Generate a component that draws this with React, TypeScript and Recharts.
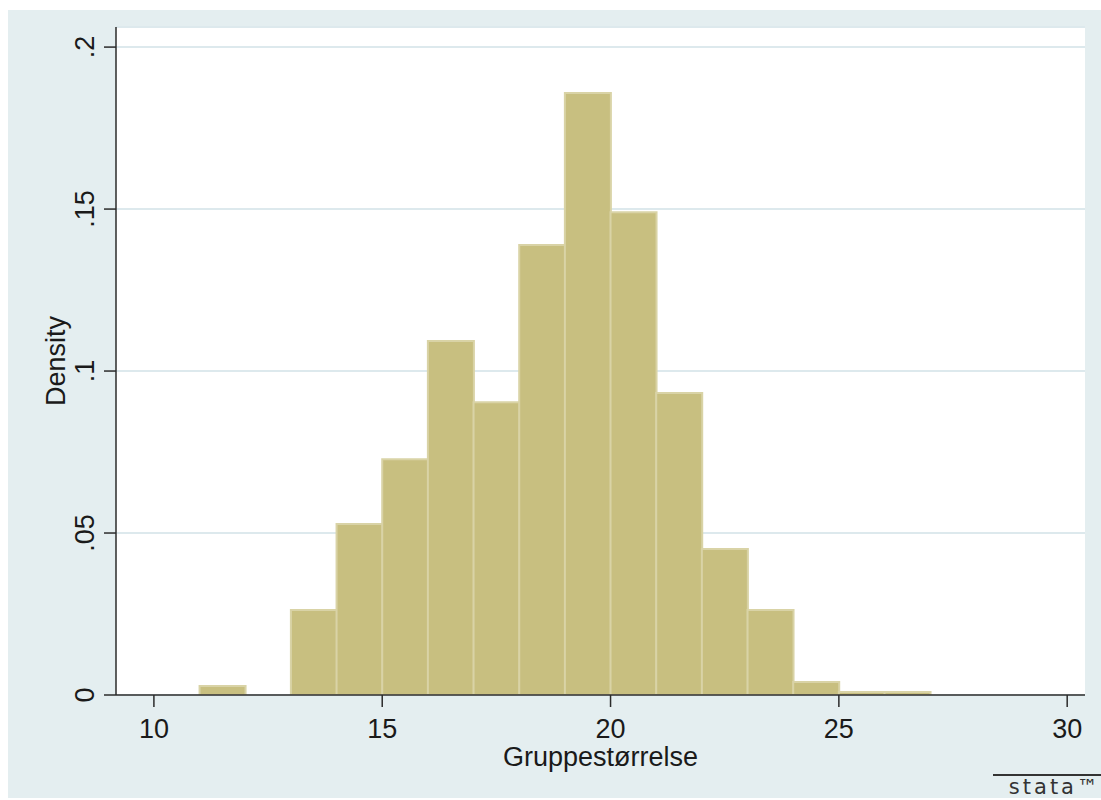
import React from "react";
import { ComposedChart, Bar, XAxis, YAxis, CartesianGrid, Label } from "recharts";

// histogram bins (width 1), value = density
const binStarts = [11, 12, 13, 14, 15, 16, 17, 18, 19, 20, 21, 22, 23, 24, 25, 26];
const densities = [
  0.0028, 0, 0.0262, 0.0528, 0.0728, 0.1093, 0.0904, 0.1389,
  0.1858, 0.149, 0.0932, 0.0451, 0.0262, 0.004, 0.0009, 0.0009,
];
const xTicks = [10, 15, 20, 25, 30];
const yTicks = [0, 0.05, 0.1, 0.15, 0.2];

const data = binStarts.map((s, i) => ({ mid: s + 0.5, density: densities[i] }));

const FONT = "'Liberation Sans', Arial, sans-serif";
const INK = "#1a1a1a";

const fmtY = (v: number) => (v === 0 ? "0" : String(v).replace(/^0/, ""));

const RotatedTick = ({ x, y, payload }: any) => (
  <text
    x={x}
    y={y}
    transform={`rotate(-90, ${x}, ${y})`}
    textAnchor="middle"
    fontFamily={FONT}
    fontSize={27}
    fill={INK}
  >
    {fmtY(payload.value)}
  </text>
);

export default function App() {
  return (
    <div
      style={{
        position: "absolute",
        left: 8,
        top: 10,
        width: 1093,
        height: 788,
        background: "#e4eef0",
      }}
    >
      <ComposedChart
        width={1093}
        height={788}
        data={data}
        margin={{ top: 17, right: 16, left: 0, bottom: 0 }}
        barCategoryGap={0}
        barGap={0}
      >
        <CartesianGrid vertical={false} stroke="#dde9ed" strokeWidth={2} fill="#ffffff" fillOpacity={1} />
        <XAxis
          dataKey="mid"
          type="number"
          domain={[9.17, 30.39]}
          ticks={xTicks}
          allowDataOverflow
          height={103}
          tickSize={12}
          tickMargin={12}
          stroke="#2b2b2b"
          strokeWidth={1.5}
          tick={{ fontFamily: FONT, fontSize: 27, fill: INK }}
        >
          <Label
            value="Gruppestørrelse"
            position="insideBottom"
            offset={32}
            style={{ fontFamily: FONT, fontSize: 27, fill: INK }}
          />
        </XAxis>
        <YAxis
          type="number"
          domain={[0, 0.2062]}
          ticks={yTicks}
          allowDataOverflow
          width={108}
          tickSize={12}
          tickMargin={10}
          stroke="#2b2b2b"
          strokeWidth={1.5}
          tick={<RotatedTick />}
        >
          <Label
            content={({ viewBox }: any) => {
              const cy = viewBox.y + viewBox.height / 2;
              const cx = 57;
              return (
                <text
                  x={cx}
                  y={cy}
                  transform={`rotate(-90, ${cx}, ${cy})`}
                  textAnchor="middle"
                  fontFamily={FONT}
                  fontSize={27}
                  fill={INK}
                >
                  Density
                </text>
              );
            }}
          />
        </YAxis>
        <Bar
          dataKey="density"
          fill="#c8bf80"
          stroke="#d9d3a6"
          strokeWidth={2}
          isAnimationActive={false}
        />
      </ComposedChart>
      <div
        style={{
          position: "absolute",
          left: 985,
          top: 764,
          width: 108,
          borderTop: "2px solid #333",
          fontFamily: "'DejaVu Sans', sans-serif",
          fontSize: 21,
          letterSpacing: 3,
          lineHeight: "22px",
          color: "#333",
          textAlign: "right",
        }}
      >
        stata™
      </div>
    </div>
  );
}
